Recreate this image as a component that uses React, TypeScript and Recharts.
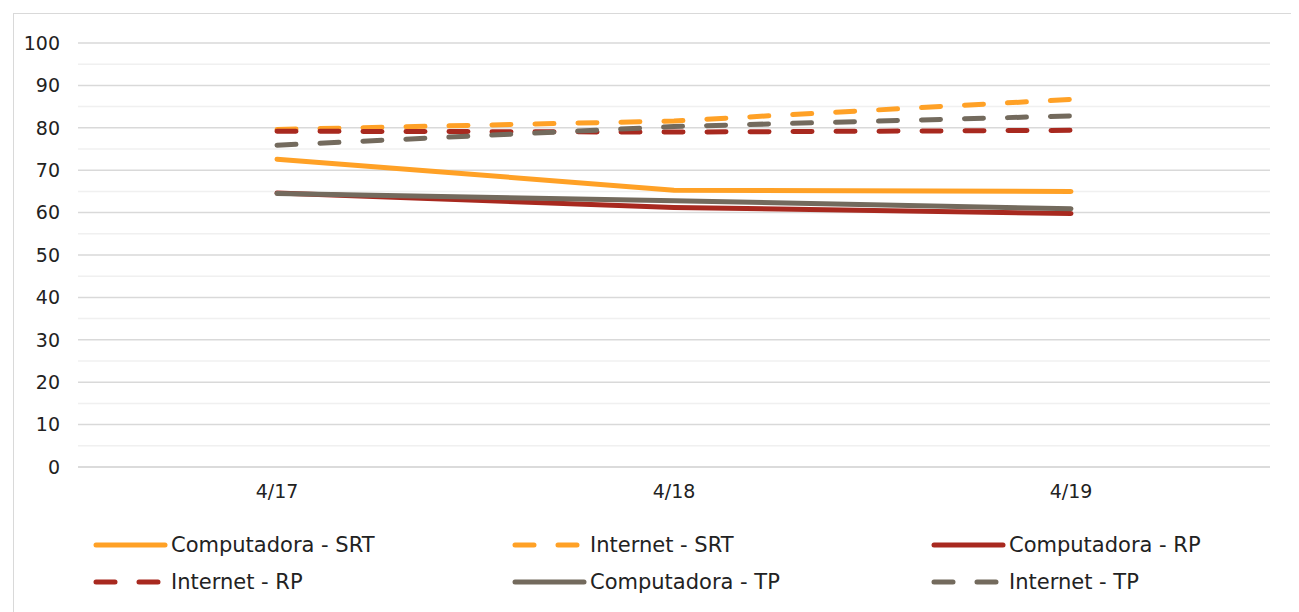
import React from 'react';
import { LineChart, Line, CartesianGrid, XAxis, YAxis, Legend } from 'recharts';

const categories = ['4/17', '4/18', '4/19'];
const compSrt = [72.6, 65.3, 65.0];
const netSrt = [79.6, 81.6, 86.7];
const compRp = [64.6, 61.2, 59.8];
const netRp = [79.2, 79.0, 79.4];
const compTp = [64.5, 62.8, 60.9];
const netTp = [75.9, 80.3, 82.8];

const yTicks = [0, 10, 20, 30, 40, 50, 60, 70, 80, 90, 100];
const minorLines = [5, 15, 25, 35, 45, 55, 65, 75, 85, 95];

const ORANGE = '#FFA126';
const RED = '#A8291F';
const GREY = '#736A5D';
const FONT = '"DejaVu Sans", sans-serif';

const series = [
  { key: 'compSrt', name: 'Computadora - SRT', color: ORANGE, dashed: false, values: compSrt },
  { key: 'netSrt', name: 'Internet - SRT', color: ORANGE, dashed: true, values: netSrt },
  { key: 'compRp', name: 'Computadora - RP', color: RED, dashed: false, values: compRp },
  { key: 'netRp', name: 'Internet - RP', color: RED, dashed: true, values: netRp },
  { key: 'compTp', name: 'Computadora - TP', color: GREY, dashed: false, values: compTp },
  { key: 'netTp', name: 'Internet - TP', color: GREY, dashed: true, values: netTp },
];

const chartData = categories.map((cat, i) => {
  const row: Record<string, any> = { cat };
  series.forEach(s => {
    row[s.key] = s.values[i];
  });
  return row;
});

const renderLegend = () => (
  <div
    style={{
      display: 'grid',
      gridTemplateColumns: '419px 419px 419px',
      paddingLeft: 85,
      paddingTop: 4,
      fontFamily: FONT,
      fontSize: 21,
      color: '#222',
    }}
  >
    {series.map(s => (
      <div key={s.key} style={{ display: 'flex', alignItems: 'center', height: 37 }}>
        <svg width={78} height={10} style={{ flex: 'none' }}>
          <line
            x1={3}
            y1={5}
            x2={72}
            y2={5}
            stroke={s.color}
            strokeWidth={5}
            strokeLinecap="round"
            strokeDasharray={s.dashed ? '19 24' : undefined}
          />
        </svg>
        <span>{s.name}</span>
      </div>
    ))}
  </div>
);

const App: React.FC = () => {
  return (
    <div style={{ position: 'relative', width: 1291, height: 604 }}>
      <div
        style={{
          position: 'absolute',
          left: 5,
          top: 5,
          width: 1300,
          height: 620,
          border: '1px solid #d9d9d9',
        }}
      />
      <LineChart
        width={1291}
        height={604}
        data={chartData}
        margin={{ top: 35, right: 29, left: 0, bottom: 10 }}
      >
        <CartesianGrid horizontalValues={minorLines} vertical={false} stroke="#f0f0f0" strokeWidth={1.5} />
        <CartesianGrid horizontalValues={yTicks} vertical={false} stroke="#d9d9d9" strokeWidth={1.5} />
        <XAxis
          dataKey="cat"
          padding={{ left: 199, right: 199 }}
          axisLine={{ stroke: '#d9d9d9', strokeWidth: 1.5 }}
          tickLine={false}
          tickSize={0}
          tickMargin={18}
          height={55}
          tick={{ fontSize: 19, fill: '#222', fontFamily: FONT }}
        />
        <YAxis
          domain={[0, 100]}
          ticks={yTicks}
          interval={0}
          axisLine={false}
          tickLine={false}
          tickSize={0}
          tickMargin={18}
          width={70}
          tick={{ fontSize: 19, fill: '#222', fontFamily: FONT }}
        />
        <Legend
          verticalAlign="bottom"
          height={80}
          content={renderLegend}
          wrapperStyle={{ left: 0, width: 1291 }}
        />
        {series.map(s => (
          <Line
            key={s.key}
            type="linear"
            dataKey={s.key}
            name={s.name}
            stroke={s.color}
            strokeWidth={5}
            strokeLinecap="round"
            strokeDasharray={s.dashed ? '19 24' : undefined}
            dot={false}
            activeDot={false}
            isAnimationActive={false}
          />
        ))}
      </LineChart>
    </div>
  );
};

export default App;
